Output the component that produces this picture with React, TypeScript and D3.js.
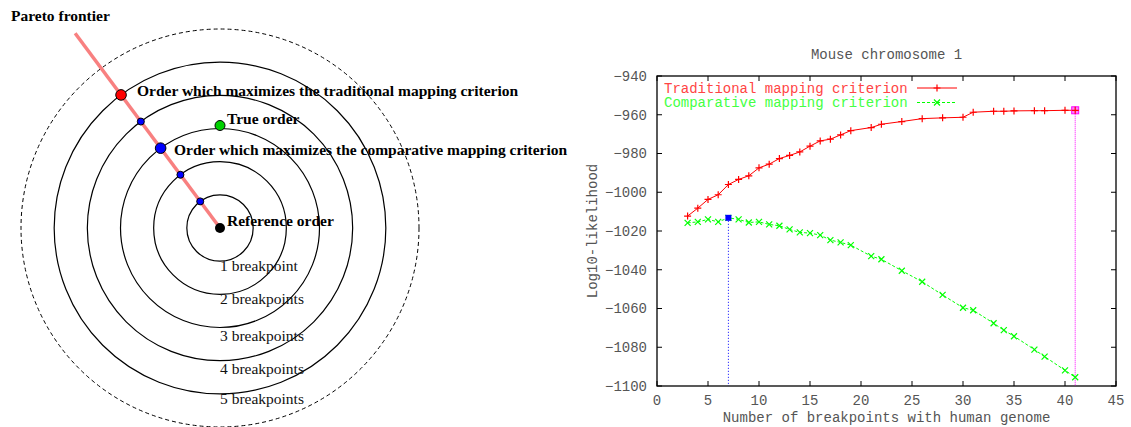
import React, { useEffect, useRef } from 'react';
import * as d3 from 'd3';

// right panel data: Mouse chromosome 1
const breakpoints = [3, 4, 5, 6, 7, 8, 9, 10, 11, 12, 13, 14, 15, 16, 17, 18, 19, 21, 22, 24, 26, 28, 30, 31, 33, 34, 35, 37, 38, 40, 41];
const traditional = [-1012.3, -1008.2, -1003.7, -1001.3, -996, -993.4, -991.5, -987.4, -985.5, -982.6, -981, -979.2, -976.2, -973.5, -972.6, -970.4, -968.2, -966.6, -964.9, -963.5, -962, -961.6, -961.3, -958.7, -958.2, -958.2, -958, -957.9, -957.9, -957.7, -957.7];
const comparative = [-1015.8, -1015.3, -1014, -1015.3, -1013.2, -1014, -1015.6, -1015.3, -1016.6, -1017.3, -1019.2, -1020.7, -1021.1, -1022.1, -1024.7, -1025.9, -1027.3, -1033, -1034.6, -1040.5, -1046.2, -1053, -1059.6, -1060.9, -1067.6, -1071.2, -1074.3, -1081.2, -1084.8, -1091.9, -1095.5];
const seriesNames = ['Traditional mapping criterion', 'Comparative mapping criterion'];
const xTicks = [0, 5, 10, 15, 20, 25, 30, 35, 40, 45];
const yTicks = [-1100, -1080, -1060, -1040, -1020, -1000, -980, -960, -940];
const bestComparative = 7;
const bestTraditional = 41;

// left panel data
const rings = [1, 2, 3, 4, 5];
const ringLabels = ['1 breakpoint', '2 breakpoints', '3 breakpoints', '4 breakpoints', '5 breakpoints'];
const paretoDots = [
  { d: 1, kind: 'small' },
  { d: 2, kind: 'small' },
  { d: 3, kind: 'comparative' },
  { d: 4, kind: 'small' },
  { d: 5, kind: 'traditional' },
];

export default function App() {
  const ref = useRef<SVGSVGElement>(null);

  useEffect(() => {
    const svg = d3.select(ref.current);
    svg.selectAll('*').remove();
    drawDiagram(svg.append('g'));
    drawChart(svg.append('g'));
  }, []);

  return (
    <div style={{ position: 'absolute', left: 0, top: 0 }}>
      <svg ref={ref} width={1131} height={427} style={{ display: 'block', background: '#fff' }} />
    </div>
  );
}

function drawDiagram(g: any) {
  const cx = 220;
  const cy = 228;
  const r = d3.scaleLinear().domain([0, 6]).range([0, 199]);
  const serif = '"Liberation Serif", "Times New Roman", serif';
  // direction of the pareto frontier
  const ang = Math.atan2(-195, -145);
  const along = (d: number) => [cx + Math.cos(ang) * r(d), cy + Math.sin(ang) * r(d)];

  g.selectAll('circle.ring')
    .data(rings)
    .enter()
    .append('circle')
    .attr('cx', cx)
    .attr('cy', cy)
    .attr('r', (d: number) => r(d))
    .attr('fill', 'none')
    .attr('stroke', '#000')
    .attr('stroke-width', 1.2);

  g.append('circle')
    .attr('cx', cx)
    .attr('cy', cy)
    .attr('r', r(6))
    .attr('fill', 'none')
    .attr('stroke', '#000')
    .attr('stroke-width', 1)
    .attr('stroke-dasharray', '4,3');

  const end = along(7.32);
  g.append('line')
    .attr('x1', end[0])
    .attr('y1', end[1])
    .attr('x2', cx)
    .attr('y2', cy)
    .attr('stroke', '#f88080')
    .attr('stroke-width', 3.5);

  g.selectAll('text.ring')
    .data(rings)
    .enter()
    .append('text')
    .attr('x', cx)
    .attr('y', (d: number) => cy + r(d) + 10 + (d === 3 ? 3 : d === 4 ? 3 : 0))
    .attr('font-family', serif)
    .attr('font-size', 15.5)
    .attr('fill', '#111')
    .text((d: number, i: number) => ringLabels[i]);

  paretoDots.forEach((p) => {
    const [x, y] = along(p.d);
    g.append('circle')
      .attr('cx', x)
      .attr('cy', y)
      .attr('r', p.kind === 'small' ? 3.5 : 5.3)
      .attr('fill', p.kind === 'traditional' ? '#ff0000' : '#0000ff')
      .attr('stroke', '#000')
      .attr('stroke-width', 1);
  });

  // true order
  g.append('circle')
    .attr('cx', cx)
    .attr('cy', cy - r(3) - 3)
    .attr('r', 5)
    .attr('fill', '#00d000')
    .attr('stroke', '#000')
    .attr('stroke-width', 1);

  g.append('circle').attr('cx', cx).attr('cy', cy).attr('r', 5).attr('fill', '#000');

  const labels = [
    { text: 'Pareto frontier', x: 11, y: 21 },
    { text: 'Order which maximizes the traditional mapping criterion', x: 137, y: 96 },
    { text: 'True order', x: 227, y: 124 },
    { text: 'Order which maximizes the comparative mapping criterion', x: 174, y: 155 },
    { text: 'Reference order', x: 227, y: 226 },
  ];
  g.selectAll('text.bold')
    .data(labels)
    .enter()
    .append('text')
    .attr('x', (d: any) => d.x)
    .attr('y', (d: any) => d.y)
    .attr('font-family', serif)
    .attr('font-weight', 'bold')
    .attr('font-size', 15.5)
    .attr('fill', '#000')
    .text((d: any) => d.text);
}

function drawChart(g: any) {
  const mono = '"Liberation Mono", "Courier New", monospace';
  const left = 657;
  const right = 1116;
  const top = 76;
  const bottom = 386;
  const x = d3.scaleLinear().domain([0, 45]).range([left, right]);
  const y = d3.scaleLinear().domain([-1100, -940]).range([bottom, top]);
  const tickLen = 5;

  // ticks on all four sides, pointing inward
  xTicks.forEach((t) => {
    g.append('line').attr('x1', x(t)).attr('x2', x(t)).attr('y1', bottom).attr('y2', bottom - tickLen).attr('stroke', '#000');
    g.append('line').attr('x1', x(t)).attr('x2', x(t)).attr('y1', top).attr('y2', top + tickLen).attr('stroke', '#000');
    g.append('text')
      .attr('x', x(t))
      .attr('y', bottom + 19)
      .attr('text-anchor', 'middle')
      .attr('font-family', mono)
      .attr('font-size', 14)
      .attr('fill', '#555')
      .text(t);
  });
  yTicks.forEach((t) => {
    g.append('line').attr('x1', left).attr('x2', left + tickLen).attr('y1', y(t)).attr('y2', y(t)).attr('stroke', '#000');
    g.append('line').attr('x1', right).attr('x2', right - tickLen).attr('y1', y(t)).attr('y2', y(t)).attr('stroke', '#000');
    g.append('text')
      .attr('x', left - 10)
      .attr('y', y(t))
      .attr('dy', '0.35em')
      .attr('text-anchor', 'end')
      .attr('font-family', mono)
      .attr('font-size', 14)
      .attr('fill', '#555')
      .text(String(t).replace('-', '\u2212'));
  });

  g.append('rect')
    .attr('x', left)
    .attr('y', top)
    .attr('width', right - left)
    .attr('height', bottom - top)
    .attr('fill', 'none')
    .attr('stroke', '#000')
    .attr('stroke-width', 1.3);

  g.append('text')
    .attr('x', (left + right) / 2)
    .attr('y', 59)
    .attr('text-anchor', 'middle')
    .attr('font-family', mono)
    .attr('font-size', 14)
    .attr('fill', '#555')
    .text('Mouse chromosome 1');

  g.append('text')
    .attr('transform', `translate(597, ${(top + bottom) / 2}) rotate(-90)`)
    .attr('text-anchor', 'middle')
    .attr('font-family', mono)
    .attr('font-size', 14)
    .attr('fill', '#555')
    .text('Log10-likelihood');

  g.append('text')
    .attr('x', (left + right) / 2)
    .attr('y', 422)
    .attr('text-anchor', 'middle')
    .attr('font-family', mono)
    .attr('font-size', 14)
    .attr('fill', '#555')
    .text('Number of breakpoints with human genome');

  // vertical markers for the optimum of each criterion
  const iC = breakpoints.indexOf(bestComparative);
  const iT = breakpoints.indexOf(bestTraditional);
  g.append('line')
    .attr('x1', x(bestComparative))
    .attr('x2', x(bestComparative))
    .attr('y1', y(comparative[iC]))
    .attr('y2', bottom)
    .attr('stroke', '#0000ff')
    .attr('stroke-dasharray', '1,2');
  g.append('line')
    .attr('x1', x(bestTraditional))
    .attr('x2', x(bestTraditional))
    .attr('y1', y(traditional[iT]))
    .attr('y2', bottom)
    .attr('stroke', '#ff00ff')
    .attr('stroke-dasharray', '1,1');

  const line = d3
    .line<number>()
    .x((d, i) => x(breakpoints[i]))
    .y((d) => y(d));

  g.append('path').attr('d', line(traditional)).attr('fill', 'none').attr('stroke', '#ff0000').attr('stroke-width', 1);
  g.append('path')
    .attr('d', line(comparative))
    .attr('fill', 'none')
    .attr('stroke', '#00ff00')
    .attr('stroke-width', 1)
    .attr('stroke-dasharray', '3,2');

  const plus = (px: number, py: number, c: string) => {
    g.append('path').attr('d', `M${px - 3.5},${py}H${px + 3.5}M${px},${py - 3.5}V${py + 3.5}`).attr('stroke', c).attr('stroke-width', 1.2);
  };
  const cross = (px: number, py: number, c: string) => {
    g.append('path')
      .attr('d', `M${px - 3},${py - 3}L${px + 3},${py + 3}M${px - 3},${py + 3}L${px + 3},${py - 3}`)
      .attr('stroke', c)
      .attr('stroke-width', 1.2);
  };

  breakpoints.forEach((b, i) => {
    plus(x(b), y(traditional[i]), '#ff0000');
    cross(x(b), y(comparative[i]), '#00ff00');
  });

  // highlighted optimum points
  g.append('rect')
    .attr('x', x(bestComparative) - 3)
    .attr('y', y(comparative[iC]) - 3)
    .attr('width', 6)
    .attr('height', 6)
    .attr('fill', '#0000ff');
  g.append('rect')
    .attr('x', x(bestTraditional) - 3.5)
    .attr('y', y(traditional[iT]) - 3.5)
    .attr('width', 7)
    .attr('height', 7)
    .attr('fill', '#ff80ff')
    .attr('stroke', '#ff00ff');
  plus(x(bestTraditional), y(traditional[iT]), '#ff0000');

  // legend
  const colors = ['#ff4444', '#44ff44'];
  seriesNames.forEach((name, i) => {
    const ly = 88 + i * 14.5;
    g.append('text')
      .attr('x', 664)
      .attr('y', ly)
      .attr('dy', '0.35em')
      .attr('font-family', mono)
      .attr('font-size', 14)
      .attr('fill', colors[i])
      .text(name);
    g.append('line')
      .attr('x1', 917)
      .attr('x2', 957)
      .attr('y1', ly)
      .attr('y2', ly)
      .attr('stroke', i === 0 ? '#ff0000' : '#00ff00')
      .attr('stroke-dasharray', i === 0 ? null : '3,2');
    if (i === 0) plus(937, ly, '#ff0000');
    else cross(937, ly, '#00ff00');
  });
}
